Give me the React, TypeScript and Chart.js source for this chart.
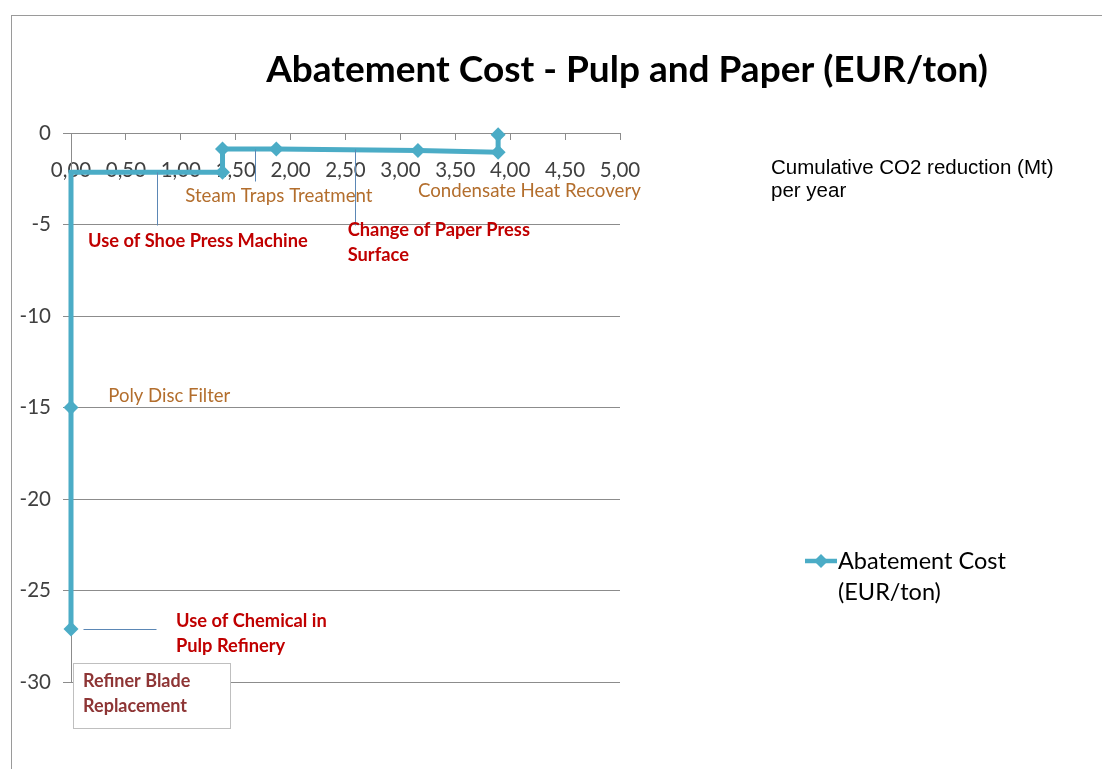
import React, { useEffect, useRef } from "react";
import { Chart, registerables } from "chart.js";

Chart.register(...registerables);

// ---- data ----
const cumulativeReduction = [0, 0, 0, 1.38, 1.38, 1.87, 3.16, 3.89, 3.89];
const abatementCost = [-27.1, -15.0, -2.15, -2.15, -0.88, -0.88, -0.95, -1.05, -0.1];
const showMarker = [true, true, false, true, true, true, true, true, true];
const xTickValues = [0, 0.5, 1, 1.5, 2, 2.5, 3, 3.5, 4, 4.5, 5];
const yTickValues = [0, -5, -10, -15, -20, -25, -30];
const seriesName = "Abatement Cost (EUR/ton)";
const legendLines = ["Abatement Cost", "(EUR/ton)"];
const chartTitle = "Abatement Cost - Pulp and Paper (EUR/ton)";
const axisTitleLines = ["Cumulative CO2 reduction (Mt)", "per year"];

const measureNames = [
  ["Use of Shoe Press Machine"],
  ["Steam Traps Treatment"],
  ["Condensate Heat Recovery"],
  ["Change of Paper Press", "Surface"],
  ["Poly Disc Filter"],
  ["Use of Chemical in", "Pulp Refinery"],
  ["Refiner Blade", "Replacement"],
];

// ---- styles ----
const LINE_COLOR = "#4BACC6";
const RED = "#C00000";
const BROWN = "#B36E2D";
const DARKRED = "#8E3535";
const LEADER = "#5B87B5";
const GRID = "#8C8C8C";
const FONT = "Lato, 'Open Sans', sans-serif";

// annotation placement (data coordinates of text anchor / leader lines)
const annotationLayout = [
  { x: 0.155, y: -5.9, color: RED, bold: true, size: 18.3, leader: [[0.78, -2.15], [0.78, -5.03]] },
  { x: 1.04, y: -3.44, color: BROWN, bold: false, size: 18.7, leader: [[1.68, -0.88], [1.68, -2.6]] },
  { x: 3.16, y: -3.17, color: BROWN, bold: false, size: 18.7 },
  { x: 2.52, y: -5.3, color: RED, bold: true, size: 18.3, leader: [[2.59, -0.9], [2.59, -5.03]] },
  { x: 0.34, y: -14.37, color: BROWN, bold: false, size: 18.5 },
  { x: 0.956, y: -26.67, color: RED, bold: true, size: 18.3, leader: [[0.11, -27.1], [0.77, -27.1]] },
  { x: 0.11, y: -29.95, color: DARKRED, bold: true, size: 18, box: [0.02, -28.96, 1.45, -32.5] },
];

const decorPlugin = {
  id: "decor",
  beforeDraw(chart: any) {
    const ctx = chart.ctx;
    ctx.save();
    ctx.strokeStyle = "#9A9A9A";
    ctx.lineWidth = 1;
    ctx.strokeRect(11.5, 15.5, 2000, 2000);
    ctx.restore();
  },
  afterDatasetsDraw(chart: any) {
    const ctx = chart.ctx;
    const xs = chart.scales.x;
    const ys = chart.scales.y;
    ctx.save();
    annotationLayout.forEach((a: any, i: number) => {
      if (a.leader) {
        ctx.strokeStyle = LEADER;
        ctx.lineWidth = 1;
        ctx.beginPath();
        ctx.moveTo(Math.round(xs.getPixelForValue(a.leader[0][0])) + 0.5, Math.round(ys.getPixelForValue(a.leader[0][1])) + 0.5);
        ctx.lineTo(Math.round(xs.getPixelForValue(a.leader[1][0])) + 0.5, Math.round(ys.getPixelForValue(a.leader[1][1])) + 0.5);
        ctx.stroke();
      }
      if (a.box) {
        const x1 = xs.getPixelForValue(a.box[0]);
        const y1 = ys.getPixelForValue(a.box[1]);
        const x2 = xs.getPixelForValue(a.box[2]);
        const y2 = ys.getPixelForValue(a.box[3]);
        ctx.fillStyle = "#FFFFFF";
        ctx.fillRect(x1, y1, x2 - x1, y2 - y1);
        ctx.strokeStyle = "#BFBFBF";
        ctx.lineWidth = 1;
        ctx.strokeRect(Math.round(x1) + 0.5, Math.round(y1) + 0.5, Math.round(x2 - x1), Math.round(y2 - y1));
      }
      ctx.fillStyle = a.color;
      ctx.font = `${a.bold ? "bold " : ""}${a.size}px ${FONT}`;
      ctx.textAlign = "left";
      ctx.textBaseline = "middle";
      const px = xs.getPixelForValue(a.x);
      const py = ys.getPixelForValue(a.y);
      measureNames[i].forEach((t, k) => ctx.fillText(t, px, py + k * 25));
    });

    // title
    ctx.fillStyle = "#000000";
    ctx.font = `bold 37px ${FONT}`;
    ctx.textAlign = "center";
    ctx.textBaseline = "middle";
    ctx.fillText(chartTitle, 627, 70);

    // axis title
    ctx.font = "20.5px 'Liberation Sans', Arial, sans-serif";
    ctx.textAlign = "left";
    ctx.fillStyle = "#000000";
    axisTitleLines.forEach((t, k) => ctx.fillText(t, 771, 168 + k * 23));

    // legend
    ctx.strokeStyle = LINE_COLOR;
    ctx.lineWidth = 4.5;
    ctx.beginPath();
    ctx.moveTo(805, 561);
    ctx.lineTo(837, 561);
    ctx.stroke();
    ctx.fillStyle = LINE_COLOR;
    ctx.beginPath();
    ctx.moveTo(821, 554);
    ctx.lineTo(828, 561);
    ctx.lineTo(821, 568);
    ctx.lineTo(814, 561);
    ctx.closePath();
    ctx.fill();
    ctx.fillStyle = "#000000";
    ctx.font = `23.5px ${FONT}`;
    legendLines.forEach((t, k) => ctx.fillText(t, 838, 561 + k * 31));
    ctx.restore();
  },
};

export default function App() {
  const ref = useRef<HTMLCanvasElement | null>(null);
  useEffect(() => {
    document.body.style.margin = "0";
    const canvas = ref.current;
    if (!canvas) return;
    const points = cumulativeReduction.map((x, i) => ({ x, y: abatementCost[i] }));
    const chart = new Chart(canvas, {
      type: "scatter",
      data: {
        datasets: [
          {
            label: seriesName,
            data: points,
            showLine: true,
            clip: false,
            borderColor: LINE_COLOR,
            backgroundColor: LINE_COLOR,
            borderWidth: 5,
            pointStyle: "rectRot",
            pointRadius: showMarker.map((m) => (m ? 7.5 : 0)),
            pointBorderWidth: 0,
            tension: 0,
          } as any,
        ],
      },
      options: {
        animation: false,
        responsive: false,
        events: [],
        layout: { padding: { top: 133, right: 482, bottom: 87, left: 0 } },
        plugins: {
          legend: { display: false },
          title: { display: false },
          tooltip: { enabled: false },
        },
        scales: {
          x: {
            type: "linear",
            min: 0,
            max: 5,
            position: { y: 0 } as any,
            afterBuildTicks: (s: any) => {
              s.ticks = xTickValues.map((v) => ({ value: v }));
            },
            ticks: {
              callback: (v: any) => Number(v).toFixed(2).replace(".", ","),
              font: { family: FONT, size: 20.5 },
              color: "#404040",
              padding: 19,
              maxRotation: 0,
              autoSkip: false,
            },
            grid: { drawOnChartArea: false, tickLength: 6, color: GRID },
            border: { color: GRID },
          },
          y: {
            min: -30,
            max: 0,
            afterBuildTicks: (s: any) => {
              s.ticks = yTickValues.map((v) => ({ value: v }));
            },
            afterFit: (s: any) => {
              s.width = 71;
            },
            ticks: {
              font: { family: FONT, size: 20.5 },
              color: "#404040",
              padding: 12,
            },
            grid: { color: GRID, tickLength: 8 },
            border: { color: GRID },
          },
        },
      },
      plugins: [decorPlugin],
    });
    return () => chart.destroy();
  }, []);
  return <canvas ref={ref} width={1102} height={769} style={{ display: "block" }} />;
}
